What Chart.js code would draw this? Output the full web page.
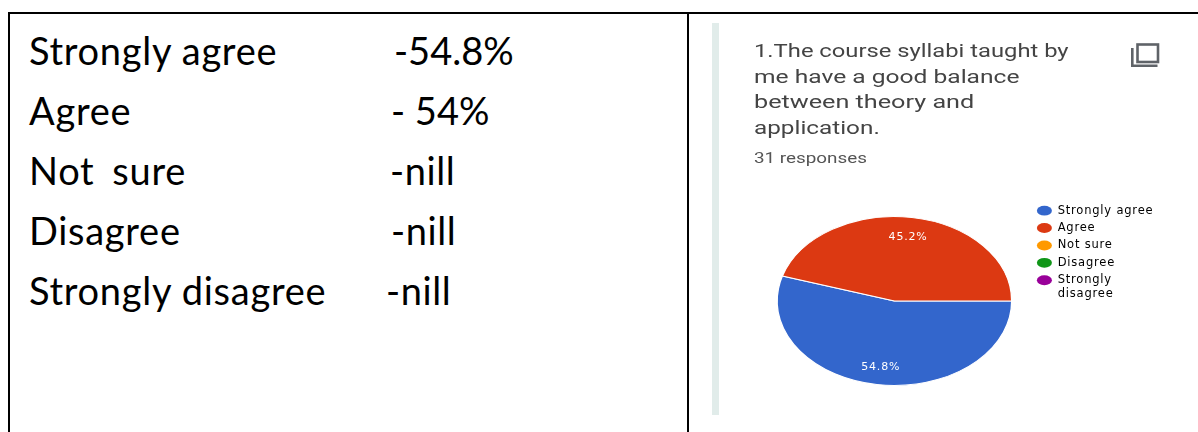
<!DOCTYPE html>
<html><head><meta charset="utf-8">
<script src="https://cdn.jsdelivr.net/npm/chart.js@4"></script>
<style>
html,body{margin:0;padding:0;background:#fff;width:1198px;height:432px;overflow:hidden}
body{position:relative}
.a{position:absolute;white-space:pre}
.rule{position:absolute;background:#000}
.t{font-family:Lato,sans-serif;font-size:38px;line-height:46px;color:#000}
.h{font-family:Roboto,sans-serif;color:#444;transform-origin:0 0;filter:blur(.35px)}
canvas{position:absolute;left:0;top:0;filter:blur(.35px)}
</style></head><body>
<div class="rule" style="left:8px;top:12px;width:1190px;height:2px"></div>
<div class="rule" style="left:8px;top:12px;width:2px;height:420px"></div>
<div class="rule" style="left:687px;top:12px;width:2px;height:420px"></div>
<div class="a" style="left:712px;top:23px;width:7px;height:392px;background:#e1ecea"></div>
<svg class="a" style="left:1128px;top:41px;filter:blur(.35px)" width="34" height="28" viewBox="0 0 34 28">
<rect x="9.5" y="3.5" width="20.5" height="17.5" fill="none" stroke="#5f6368" stroke-width="2.6"/>
<path d="M4.3 7V24.7H29.5" fill="none" stroke="#5f6368" stroke-width="2.6"/></svg>
<div id="rows"></div>
<div id="head"></div>
<canvas id="c" width="1198" height="432"></canvas>
<script>
const categories=["Strongly agree","Agree","Not sure","Disagree","Strongly disagree"];
const legendText=["Strongly agree","Agree","Not sure","Disagree",["Strongly","disagree"]];
const tableValues=["-54.8%","- 54%","-nill","-nill","-nill"];
const percentValues=[54.8,45.2,0,0,0];
const sliceColors=["#3366cc","#dc3912","#ff9900","#109618","#990099"];
const questionLines=["1.The course syllabi taught by","me have a good balance","between theory and","application."];
const responsesText="31 responses";

const rowsEl=document.getElementById('rows');
const valueLeft=[394,391,390,391,386];
categories.forEach((c,i)=>{
  const top=27+i*60;
  const vs=tableValues[i].includes('nill')?'.6px':'0';
  const ws=c==='Not sure'?'-1.5px':'0';
  rowsEl.insertAdjacentHTML('beforeend',
   `<div class="a t" style="left:29px;top:${top}px;letter-spacing:.72px;word-spacing:${ws}">${c==='Not sure'?'Not  sure':c}</div>`+
   `<div class="a t" style="left:${valueLeft[i]}px;top:${top}px;letter-spacing:${vs}">${tableValues[i]}</div>`);
});
const headEl=document.getElementById('head');
const lineStretch=[1.32,1.365,1.40,1.35];
questionLines.forEach((l,i)=>{
  headEl.insertAdjacentHTML('beforeend',
   `<div class="a h" style="left:754px;top:${39+i*25.7}px;font-size:18px;line-height:24px;transform:scaleX(${lineStretch[i]})">${l}</div>`);
});
headEl.insertAdjacentHTML('beforeend',
  `<div class="a h" style="left:754px;top:149px;font-size:14px;line-height:18px;color:#555;transform:scaleX(1.345)">${responsesText}</div>`);

const stretchX=118/85;
const ellipsePlugin={
  id:'ellipse',
  beforeDraw(chart){chart.ctx.letterSpacing='0.8px';},
  beforeDatasetDraw(chart){
    const a=chart.getDatasetMeta(0).data[0];
    const ctx=chart.ctx;ctx.save();
    ctx.translate(a.x,a.y);ctx.scale(stretchX,1);ctx.translate(-a.x,-a.y);
  },
  afterDatasetDraw(chart){
    const ctx=chart.ctx;ctx.restore();
    ctx.save();
    ctx.fillStyle='#fff';ctx.textAlign='center';ctx.textBaseline='middle';
    ctx.font='11px "DejaVu Sans", sans-serif';
    chart.getDatasetMeta(0).data.forEach((arc,i)=>{
      if(!percentValues[i])return;
      const m=(arc.startAngle+arc.endAngle)/2,r=arc.outerRadius*0.775;
      ctx.fillText(percentValues[i].toFixed(1)+'%',arc.x+Math.cos(m)*r*stretchX,arc.y+Math.sin(m)*r+1);
    });
    ctx.restore();
  },
  afterLayout(chart){
    const l=chart.legend,w=l.width,h=l.height;
    l.left=1031;l.right=1031+w;l.top=199;l.bottom=199+h;
  }
};
new Chart(document.getElementById('c'),{
  type:'pie',
  data:{labels:categories,datasets:[{data:percentValues,backgroundColor:sliceColors,borderColor:'#fff',borderWidth:1,clip:false}]},
  plugins:[ellipsePlugin],
  options:{
    responsive:false,animation:false,rotation:90,
    layout:{padding:{top:216,bottom:46,left:712,right:0}},
    plugins:{
      tooltip:{enabled:false},
      legend:{position:'right',align:'start',labels:{
        usePointStyle:true,pointStyle:'circle',boxHeight:7,pointStyleWidth:15,
        padding:5.9,color:'#555',font:{family:'"DejaVu Sans", sans-serif',size:11.5},
        generateLabels(chart){
          return legendText.map((t,i)=>({text:t,fillStyle:sliceColors[i],strokeStyle:sliceColors[i],lineWidth:0,pointStyle:'circle',index:i,hidden:false}));
        }
      }}
    }
  }
});
</script></body></html>
